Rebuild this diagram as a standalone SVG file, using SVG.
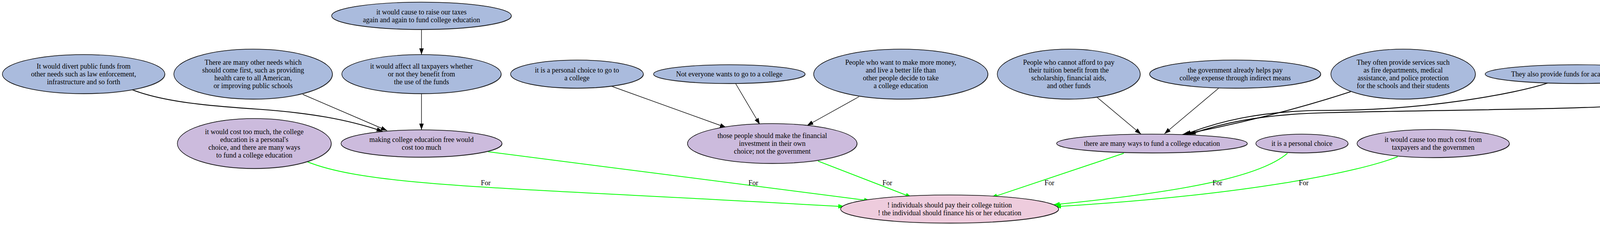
<svg xmlns="http://www.w3.org/2000/svg" width="4736" height="577" viewBox="0 0 4736 577">
<style>
.sh{fill:#666;stroke:none;opacity:0.8}
.b{fill:#aabbdd;stroke:#000;stroke-width:1.4}
.p{fill:#ccbbdd;stroke:#000;stroke-width:1.4}
.r{fill:#eeccdd;stroke:#000;stroke-width:1.4}
text{font-family:"Liberation Serif","Times New Roman",serif;font-size:18px;fill:#000;text-anchor:middle}
text.lbl{text-anchor:start}
.e{fill:none;stroke:#000;stroke-width:1.4}
.ew{fill:none;stroke:#000;stroke-width:2.2}
.g{fill:none;stroke:#00ff00;stroke-width:2}
</style>
<defs>
<marker id="ab" markerUnits="userSpaceOnUse" markerWidth="16" markerHeight="12" viewBox="0 0 14 10" refX="14" refY="5" orient="auto"><path d="M0,0 L14,5 L0,10 z" fill="#000"/></marker>
<marker id="ag" markerUnits="userSpaceOnUse" markerWidth="16" markerHeight="12" viewBox="0 0 14 10" refX="14" refY="5" orient="auto"><path d="M0,0 L14,5 L0,10 z" fill="#00ff00"/></marker>
</defs>
<g id="edges">
<path class="ew" marker-end="url(#ab)" d="M338,230 C420,262 540,272 660,280 C790,289 890,306 980,337"/>
<path class="e" marker-end="url(#ab)" d="M775,242 L991,335"/>
<path class="e" marker-end="url(#ab)" d="M1079,76 L1079,140"/>
<path class="e" marker-end="url(#ab)" d="M1079,240 L1079,333"/>
<path class="e" marker-end="url(#ab)" d="M1565,221 L1859,327"/>
<path class="e" marker-end="url(#ab)" d="M1883,214 L1945,319"/>
<path class="e" marker-end="url(#ab)" d="M2199,248 L2066,322"/>
<path class="e" marker-end="url(#ab)" d="M2809,250 L2921,344"/>
<path class="e" marker-end="url(#ab)" d="M3120,226 L2981,343"/>
<path class="ew" marker-end="url(#ab)" d="M3458,235 Q3260,300 3027,345"/>
<path class="ew" marker-end="url(#ab)" d="M3962,213 C3880,240 3650,283 3400,283 C3220,283 3110,315 3033,345"/>
<path class="ew" marker-end="url(#ab)" d="M4388,231 C4280,285 4000,275 3400,289 C3220,293 3120,318 3045,345"/>
<path class="g" marker-end="url(#ag)" d="M787,415 C950,480 1300,480 2162,530"/>
<path class="g" marker-end="url(#ag)" d="M1249,389 L2228,515"/>
<path class="g" marker-end="url(#ag)" d="M2094,413 L2334,506"/>
<path class="g" marker-end="url(#ag)" d="M2877,393 L2537,507"/>
<path class="g" marker-end="url(#ag)" d="M3296,393 C3230,450 3050,490 2697,525"/>
<path class="g" marker-end="url(#ag)" d="M3578,402 C3480,440 3200,500 2700,530"/>
<text class="lbl" x="1231" y="475">For</text>
<text class="lbl" x="1916" y="475">For</text>
<text class="lbl" x="2259" y="475">For</text>
<text class="lbl" x="2674" y="475">For</text>
<text class="lbl" x="3104" y="475">For</text>
<text class="lbl" x="3325" y="475">For</text>
</g>
<g id="n_divert"><ellipse class="sh" cx="215" cy="191.5" rx="208" ry="50"/><ellipse class="b" cx="214" cy="190" rx="208" ry="50"/><text x="214" y="176"><tspan x="214">It would divert public funds from</tspan><tspan x="214" dy="20">other needs such as law enforcement,</tspan><tspan x="214" dy="20">infrastructure and so forth</tspan></text></g>
<g id="n_needs"><ellipse class="sh" cx="649" cy="191.5" rx="203" ry="64"/><ellipse class="b" cx="648" cy="190" rx="203" ry="64"/><text x="648" y="166"><tspan x="648">There are many other needs which</tspan><tspan x="648" dy="20">should come first, such as providing</tspan><tspan x="648" dy="20">health care to all American,</tspan><tspan x="648" dy="20">or improving public schools</tspan></text></g>
<g id="n_taxes"><ellipse class="sh" cx="1080" cy="42" rx="230" ry="35"/><ellipse class="b" cx="1079" cy="40.5" rx="230" ry="35"/><text x="1079" y="36.5"><tspan x="1079">it would cause to raise our taxes</tspan><tspan x="1079" dy="20">again and again to fund college education</tspan></text></g>
<g id="n_affect"><ellipse class="sh" cx="1080" cy="191.5" rx="204" ry="50"/><ellipse class="b" cx="1079" cy="190" rx="204" ry="50"/><text x="1079" y="176"><tspan x="1079">it would affect all taxpayers whether</tspan><tspan x="1079" dy="20">or not they benefit from</tspan><tspan x="1079" dy="20">the use of the funds</tspan></text></g>
<g id="n_choicego"><ellipse class="sh" cx="1478" cy="191.5" rx="170" ry="36"/><ellipse class="b" cx="1477" cy="190" rx="170" ry="36"/><text x="1477" y="186"><tspan x="1477">it is a personal choice to go to</tspan><tspan x="1477" dy="20">a college</tspan></text></g>
<g id="n_noteveryone"><ellipse class="sh" cx="1868" cy="191.5" rx="194" ry="24"/><ellipse class="b" cx="1867" cy="190" rx="194" ry="24"/><text x="1867" y="196">Not everyone wants to go to a college</text></g>
<g id="n_money"><ellipse class="sh" cx="2307" cy="191.5" rx="223" ry="64"/><ellipse class="b" cx="2306" cy="190" rx="223" ry="64"/><text x="2306" y="166"><tspan x="2306">People who want to make more money,</tspan><tspan x="2306" dy="20">and live a better life than</tspan><tspan x="2306" dy="20">other people decide to take</tspan><tspan x="2306" dy="20">a college education</tspan></text></g>
<g id="n_afford"><ellipse class="sh" cx="2737" cy="191.5" rx="183" ry="64"/><ellipse class="b" cx="2736" cy="190" rx="183" ry="64"/><text x="2736" y="166"><tspan x="2736">People who cannot afford to pay</tspan><tspan x="2736" dy="20">their tuition benefit from the</tspan><tspan x="2736" dy="20">scholarship, financial aids,</tspan><tspan x="2736" dy="20">and other funds</tspan></text></g>
<g id="n_gov"><ellipse class="sh" cx="3163" cy="191.5" rx="219" ry="36"/><ellipse class="b" cx="3162" cy="190" rx="219" ry="36"/><text x="3162" y="186"><tspan x="3162">the government already helps pay</tspan><tspan x="3162" dy="20">college expense through indirect means</tspan></text></g>
<g id="n_services"><ellipse class="sh" cx="3593" cy="191.5" rx="185" ry="64"/><ellipse class="b" cx="3592" cy="190" rx="185" ry="64"/><text x="3592" y="166"><tspan x="3592">They often provide services such</tspan><tspan x="3592" dy="20">as fire departments, medical</tspan><tspan x="3592" dy="20">assistance, and police protection</tspan><tspan x="3592" dy="20">for the schools and their students</tspan></text></g>
<g id="n_research"><ellipse class="sh" cx="4038" cy="191.5" rx="235" ry="24"/><ellipse class="b" cx="4037" cy="190" rx="235" ry="24"/><text x="4037" y="196">They also provide funds for academic research</text></g>
<g id="n_notgiven"><ellipse class="sh" cx="4514" cy="191.5" rx="217" ry="50"/><ellipse class="b" cx="4513" cy="190" rx="217" ry="50"/><text x="4513" y="176"><tspan x="4513">While the money is not given to</tspan><tspan x="4513" dy="20">individual students, these contributions</tspan><tspan x="4513" dy="20">are not trivial</tspan></text></g>
<g id="n_costmuch"><ellipse class="sh" cx="652" cy="369.5" rx="197" ry="64"/><ellipse class="p" cx="651" cy="368" rx="197" ry="64"/><text x="651" y="344"><tspan x="651">it would cost too much, the college</tspan><tspan x="651" dy="20">education is a personal's</tspan><tspan x="651" dy="20">choice, and there are many ways</tspan><tspan x="651" dy="20">to fund a college education</tspan></text></g>
<g id="n_making"><ellipse class="sh" cx="1080" cy="369.5" rx="206" ry="35"/><ellipse class="p" cx="1079" cy="368" rx="206" ry="35"/><text x="1079" y="364"><tspan x="1079">making college education free would</tspan><tspan x="1079" dy="20">cost too much</tspan></text></g>
<g id="n_those"><ellipse class="sh" cx="1978" cy="369.5" rx="217" ry="51"/><ellipse class="p" cx="1977" cy="368" rx="217" ry="51"/><text x="1977" y="354"><tspan x="1977">those people should make the financial</tspan><tspan x="1977" dy="20">investment in their own</tspan><tspan x="1977" dy="20">choice; not the government</tspan></text></g>
<g id="n_ways"><ellipse class="sh" cx="2950" cy="369.5" rx="244" ry="24"/><ellipse class="p" cx="2949" cy="368" rx="244" ry="24"/><text x="2949" y="374">there are many ways to fund a college education</text></g>
<g id="n_personal"><ellipse class="sh" cx="3334" cy="369.5" rx="118" ry="24"/><ellipse class="p" cx="3333" cy="368" rx="118" ry="24"/><text x="3333" y="374">it is a personal choice</text></g>
<g id="n_causecost"><ellipse class="sh" cx="3670" cy="369.5" rx="195" ry="36"/><ellipse class="p" cx="3669" cy="368" rx="195" ry="36"/><text x="3669" y="364"><tspan x="3669">it would cause too much cost from</tspan><tspan x="3669" dy="20">taxpayers and the governmen</tspan></text></g>
<g id="n_root"><ellipse class="sh" cx="2432" cy="537.5" rx="279" ry="36"/><ellipse class="r" cx="2431" cy="536" rx="279" ry="36"/><text x="2431" y="532"><tspan x="2431">! individuals should pay their college tuition</tspan><tspan x="2431" dy="20">! the individual should finance his or her education</tspan></text></g>
</svg>
